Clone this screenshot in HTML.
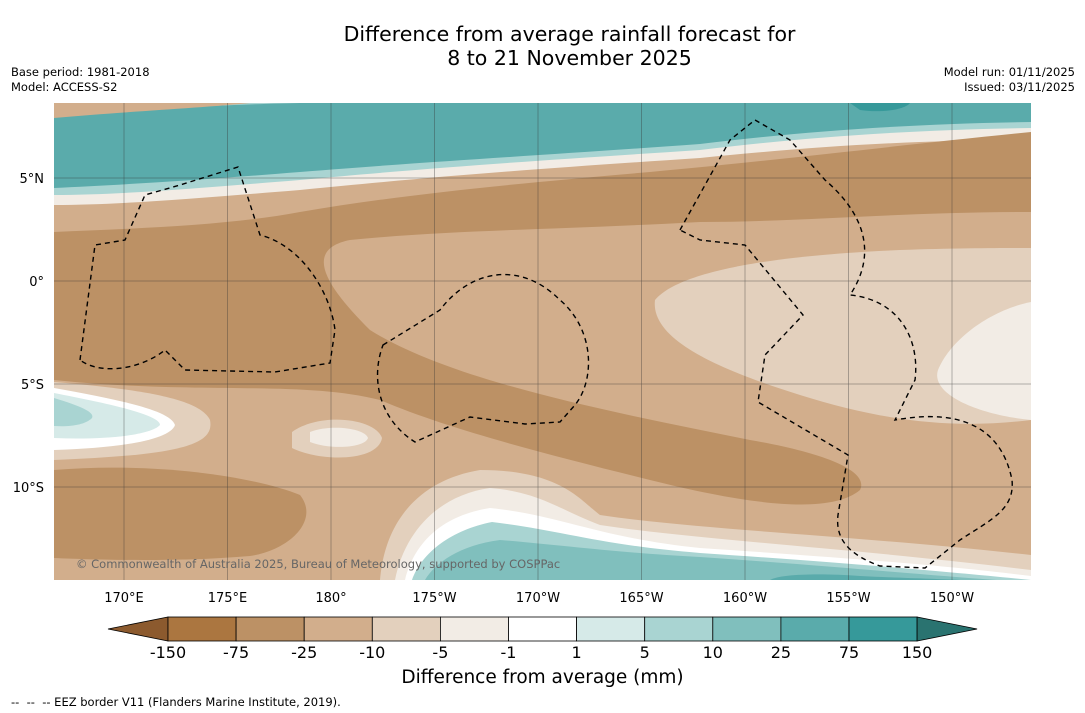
<!DOCTYPE html>
<html><head><meta charset="utf-8"><style>
body{margin:0;background:#fff;font-family:"DejaVu Sans","Liberation Sans",sans-serif;}
#w{position:relative;width:1085px;height:713px;overflow:hidden;background:#fff}
.t{position:absolute;color:#000}
svg text{font-family:"DejaVu Sans","Liberation Sans",sans-serif}
</style></head><body>
<div id="w">
<div class="t" style="left:0;width:1139px;top:22px;text-align:center;font-size:20.5px;line-height:24px">Difference from average rainfall forecast for<br>8 to 21 November 2025</div>
<div class="t" style="left:11px;top:65px;font-size:11.5px;line-height:15px">Base period: 1981-2018<br>Model: ACCESS-S2</div>
<div class="t" style="right:10px;top:65px;font-size:11.5px;line-height:15px;text-align:right">Model run: 01/11/2025<br>Issued: 03/11/2025</div>
<svg id="s" width="1085" height="713" style="position:absolute;left:0;top:0">
<defs><clipPath id="mc"><rect x="54" y="103" width="977" height="477"/></clipPath></defs>
<g id="map" clip-path="url(#mc)">
<rect x="54" y="103" width="977" height="477" fill="#d2ae8c"/>
<path d="M54,103 H1031 V140 C900,140 800,148 700,158 C550,168 450,175 300,190 C200,198 120,205 54,205 Z" fill="#f2ece5"/>
<path d="M54,103 H1031 V128 C900,130 800,138 700,150 C550,160 450,166 300,180 C200,188 120,195 54,195 Z" fill="#a9d4d2"/>
<path d="M54,115 C150,108 250,104 300,103 H1031 V122 C900,124 800,132 700,144 C550,155 450,160 300,172 C200,180 120,185 54,188 Z" fill="#5aabab"/>
<path d="M54,103 H250 C200,108 120,112 54,118 Z" fill="#d2ae8c"/>
<path d="M850,103 H910 C905,110 880,113 860,110 Z" fill="#36999a"/>
<path d="M54,232 C150,228 230,225 300,212 C400,195 500,185 650,172 C800,158 900,145 1031,132 V212 C900,212 800,222 700,222 C550,230 450,230 350,240 C300,250 330,290 370,330 C450,380 600,410 750,440 C820,452 870,470 860,490 C830,515 750,505 650,480 C550,455 450,430 380,400 C300,380 200,395 54,380 Z" fill="#bc9165"/>
<path d="M655,300 C680,270 780,255 900,250 C960,248 1000,248 1031,248 V420 C950,430 880,420 800,395 C720,370 650,340 655,300 Z" fill="#e3d0bd"/>
<path d="M1031,302 C990,310 950,340 938,370 C930,395 980,415 1031,420 Z" fill="#f2ece5"/>
<path d="M54,382 C150,390 200,400 210,420 C215,445 180,455 54,460 Z" fill="#e3d0bd"/>
<path d="M54,388 C120,400 170,410 175,425 C170,440 120,448 54,450 Z" fill="#ffffff"/>
<path d="M54,393 C100,402 160,414 160,425 C150,436 100,440 54,438 Z" fill="#d6eae8"/>
<path d="M54,398 C80,406 95,412 92,418 C85,425 70,427 54,426 Z" fill="#a9d4d2"/>
<path d="M292,432 C320,412 375,418 382,438 C378,462 320,462 292,448 Z" fill="#e3d0bd"/>
<path d="M310,432 C330,424 365,428 368,438 C365,448 330,450 310,442 Z" fill="#f2ece5"/>
<path d="M54,470 C150,462 250,475 300,495 C320,520 290,550 250,556 C180,562 100,560 54,558 Z" fill="#bc9165"/>
<path d="M380,580 C385,520 420,480 480,470 C560,470 580,500 600,515 C700,530 850,535 1031,555 V580 Z" fill="#e3d0bd"/>
<path d="M395,580 C405,530 440,495 490,488 C540,492 560,510 600,525 C700,540 850,548 1031,570 V580 Z" fill="#f2ece5"/>
<path d="M405,580 C415,540 445,515 490,508 C560,515 600,538 700,548 C850,558 950,566 1031,576 V580 Z" fill="#ffffff"/>
<path d="M412,580 C422,552 452,530 492,522 C560,530 600,545 700,553 C850,563 950,572 1031,580 Z" fill="#a9d4d2"/>
<path d="M425,580 C435,563 460,545 500,540 C560,545 620,553 700,557 C850,567 950,578 1031,582 Z" fill="#80bfbd"/>
<path d="M770,580 C780,574 820,573 860,576 C900,578 940,579 960,580 Z" fill="#5aabab"/>
<g id="grid" stroke="#333" stroke-width="0.5" opacity="0.7"></g>
<g fill="none" stroke="#000" stroke-width="1.4" stroke-dasharray="5,4">
<path d="M80,360 L95,245 L125,240 L145,195 L180,185 L238,167 L260,235 C300,245 330,290 335,330 L330,363 L275,372 L185,370 L165,350 C140,370 100,375 80,360 Z"/>
<path d="M383,345 L440,310 C470,270 520,260 560,300 C595,330 595,380 575,405 L560,422 L525,424 L470,417 L415,442 C380,420 370,380 383,345 Z"/>
<path d="M680,230 L730,140 L755,120 L790,140 L825,180 C860,210 880,250 850,295 C900,300 920,340 915,380 L895,420 C950,410 1000,420 1012,480 C1015,510 990,520 960,540 L925,568 L880,566 C850,555 835,540 838,515 L848,455 L758,402 L765,355 L803,315 L745,245 L700,240 Z"/>
</g>
</g>
<g id="axes" font-size="13" fill="#000"></g>
<g id="cbar"></g>
</svg>
<div class="t" style="left:76px;top:557px;font-size:11.5px;color:#666">© Commonwealth of Australia 2025, Bureau of Meteorology, supported by COSPPac</div>
<div class="t" style="left:0;width:1085px;top:667px;text-align:center;font-size:18.5px">Difference from average (mm)</div>
<div class="t" style="left:11px;top:695px;font-size:11.5px">-- &nbsp;-- &nbsp;-- EEZ border V11 (Flanders Marine Institute, 2019).</div>
</div>
<script>
const lonTicks=[170,175,180,-175,-170,-165,-160,-155,-150];
const lonLabels=["170°E","175°E","180°","175°W","170°W","165°W","160°W","155°W","150°W"];
const latTicks=[5,0,-5,-10];
const latLabels=["5°N","0°","5°S","10°S"];
const levels=["-150","-75","-25","-10","-5","-1","1","5","10","25","75","150"];
const colors=["#ab7640","#bc9165","#d2ae8c","#e3d0bd","#f2ece5","#ffffff","#d6eae8","#a9d4d2","#80bfbd","#5aabab","#36999a"];
const NS="http://www.w3.org/2000/svg";
const xLon=l=>{let e=l<0?360+l:l;return 124+(e-170)*20.7;};
const yLat=a=>281-a*20.6;
const grid=document.getElementById('grid'),axes=document.getElementById('axes'),cb=document.getElementById('cbar');
function mk(tag,at,p){const e=document.createElementNS(NS,tag);for(const k in at)e.setAttribute(k,at[k]);p.appendChild(e);return e;}
lonTicks.forEach((l,i)=>{const x=xLon(l);
const g=mk('line',{x1:x,x2:x,y1:103,y2:580},grid);


const t=mk('text',{x:x,y:602,'text-anchor':'middle'},axes);t.textContent=lonLabels[i];

});
latTicks.forEach((a,i)=>{const y=yLat(a);
const g=mk('line',{x1:54,x2:1031,y1:y,y2:y},grid);


const t=mk('text',{x:44,y:y+5,'text-anchor':'end'},axes);t.textContent=latLabels[i];

});
const bx0=168,bw=68.1,by=617,bh=24;
const lt=mk('polygon',{points:`108,629 ${bx0},${by} ${bx0},${by+bh}`,fill:'#8c5a2e',stroke:'#000','stroke-width':0.8},cb);


colors.forEach((c,i)=>{const r=mk('rect',{x:bx0+i*bw,y:by,width:bw,height:bh,fill:c,stroke:'#000','stroke-width':0.8},cb);

});
const xe=bx0+colors.length*bw;
const rt=mk('polygon',{points:`${xe},${by} ${xe+60},629 ${xe},${by+bh}`,fill:'#2a7370',stroke:'#000','stroke-width':0.8},cb);


levels.forEach((v,i)=>{const t=mk('text',{x:bx0+i*bw,y:658,'text-anchor':'middle','font-size':16},cb);t.textContent=v;

});
</script>
</body></html>
